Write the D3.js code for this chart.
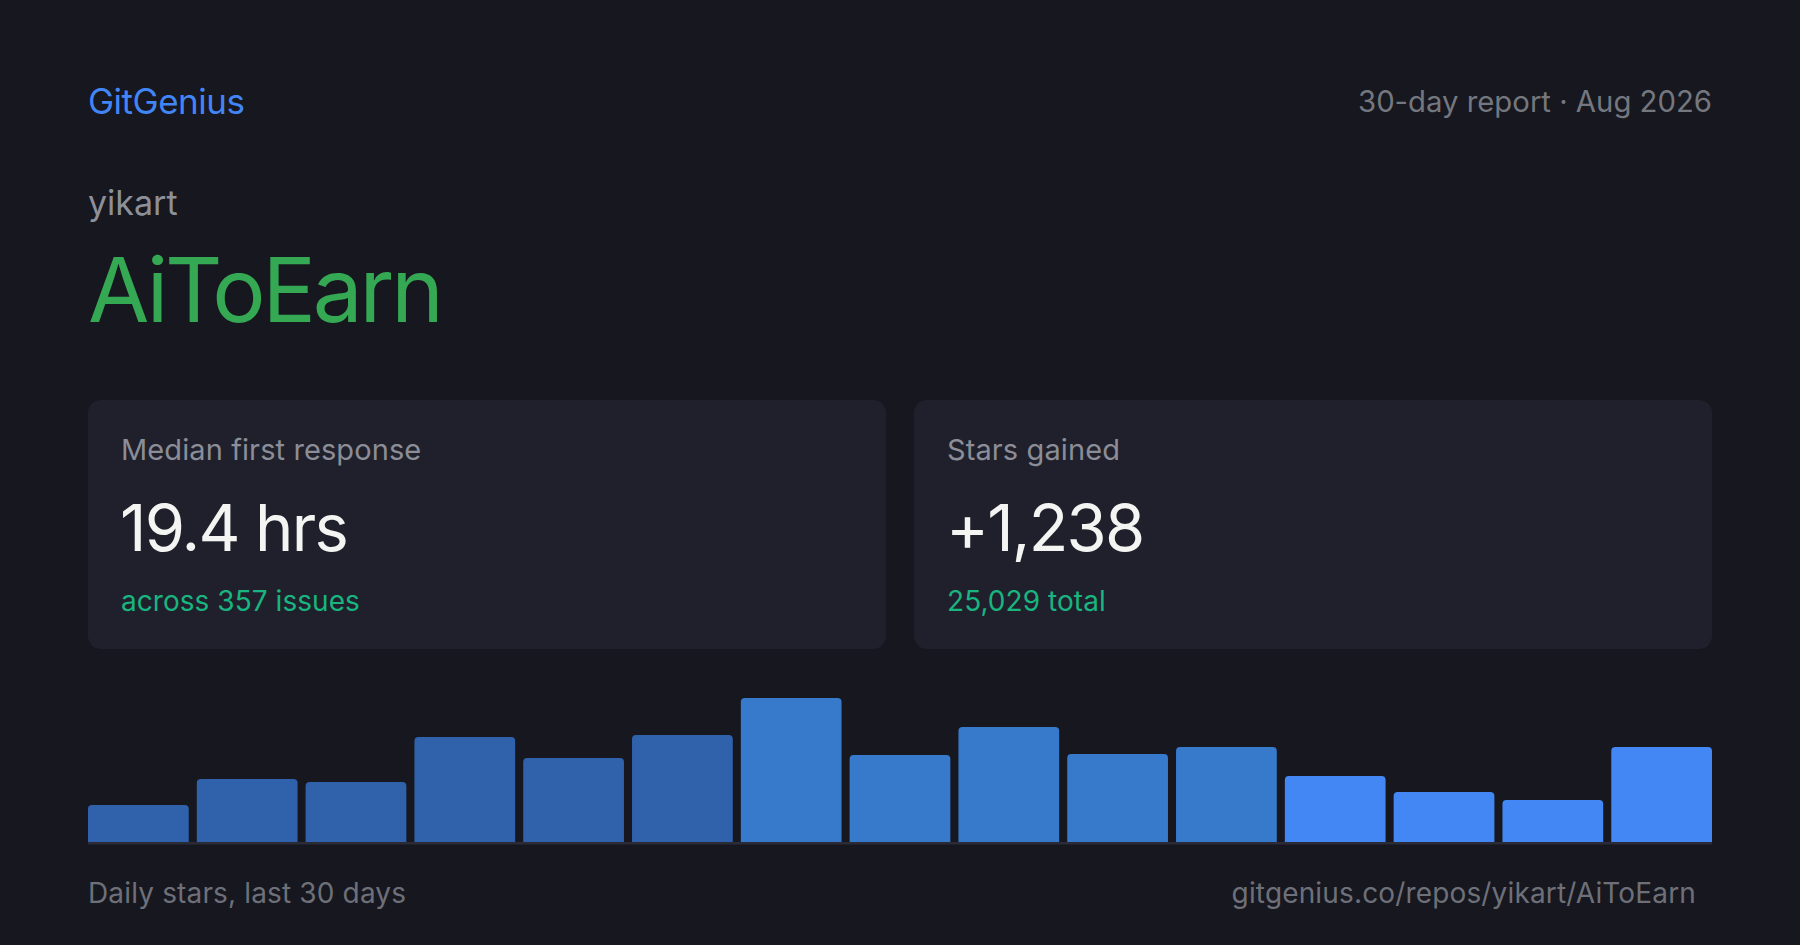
<!DOCTYPE html>
<html>
<head>
<meta charset="utf-8">
<script src="https://cdn.jsdelivr.net/npm/d3@7"></script>
<style>
  html, body { margin: 0; padding: 0; background: #16171f; }
  svg { display: block; font-family: Inter, "Noto Sans", sans-serif; }
</style>
</head>
<body>
<svg id="card" width="1800" height="945"></svg>
<script>
// Daily stars, grouped in 15 two-day buckets over the last 30 days
const buckets = d3.range(1, 16).map(i => `P${i}`);
const starsGained = [37, 63, 60, 105, 84, 107, 144, 87, 115, 88, 95, 66, 50, 42, 95];
const barTone = ['dim', 'dim', 'dim', 'dim', 'dim', 'dim', 'mid', 'mid', 'mid', 'mid', 'mid', 'hot', 'hot', 'hot', 'hot'];

const stats = [
    { label: 'Median first response', value: '19.4 hrs', note: 'across 357 issues' },
    { label: 'Stars gained', value: '+1,238', note: '25,029 total' }
];

const W = 1800, left = 88, right = 1712;
const toneColor = { dim: '#2f62ab', mid: '#3779cb', hot: '#4287f3' };

const svg = d3.select('#card');

svg.append('rect').attr('width', W).attr('height', 945).attr('fill', '#16171f');

// header
svg.append('text').attr('x', left).attr('y', 114)
    .attr('font-size', 35).attr('letter-spacing', -0.5).attr('fill', '#4285f4').text('GitGenius');
svg.append('text').attr('x', right).attr('y', 112).attr('text-anchor', 'end')
    .attr('font-size', 29.3).attr('fill', '#75777f').text('30-day report · Aug 2026');

svg.append('text').attr('x', left).attr('y', 215)
    .attr('font-size', 34).attr('fill', '#8e9099').text('yikart');
svg.append('text').attr('x', left).attr('y', 322)
    .attr('font-size', 89).attr('fill', '#34a853').attr('letter-spacing', -3.2).text('AiToEarn');

// stat cards
const gap = 28;
const cardW = (right - left - gap) / 2;
const cards = svg.selectAll('.stat')
    .data(stats)
    .enter().append('g')
    .attr('class', 'stat')
    .attr('transform', (d, i) => `translate(${left + i * (cardW + gap)},400)`);

cards.append('rect')
    .attr('width', cardW).attr('height', 249).attr('rx', 13)
    .attr('fill', '#1f202b');
cards.append('text').attr('x', 33).attr('y', 60)
    .attr('font-size', 29).attr('letter-spacing', 0.1).attr('fill', '#8b8d97').text(d => d.label);
cards.append('text').attr('x', 32).attr('y', 151)
    .attr('font-size', 65).attr('fill', '#f4f4f2').attr('letter-spacing', -1.8).text(d => d.value);
cards.append('text').attr('x', 33).attr('y', 211)
    .attr('font-size', 28).attr('letter-spacing', 0.05).attr('fill', '#19b47f').text(d => d.note);

// bar chart
const baseY = 842, topY = 698;
const x = d3.scaleBand().domain(buckets).range([left, right]).paddingInner(0.074).paddingOuter(0);
const y = d3.scaleLinear().domain([0, d3.max(starsGained)]).range([baseY, topY]);

const r = 4;
function topRounded(xp, yp, w, h) {
    return `M${xp},${yp + h}V${yp + r}Q${xp},${yp} ${xp + r},${yp}H${xp + w - r}Q${xp + w},${yp} ${xp + w},${yp + r}V${yp + h}Z`;
}

svg.append('g')
    .selectAll('path')
    .data(buckets)
    .enter().append('path')
    .attr('fill', (d, i) => toneColor[barTone[i]])
    .attr('d', (d, i) => topRounded(x(d), y(starsGained[i]), x.bandwidth(), baseY - y(starsGained[i])));

svg.append('rect')
    .attr('x', left).attr('y', baseY).attr('width', right - left).attr('height', 2.5)
    .attr('fill', '#2a2b36');

// footer
svg.append('text').attr('x', left).attr('y', 903)
    .attr('font-size', 28).attr('letter-spacing', 0.15).attr('fill', '#6e7079').text('Daily stars, last 30 days');
svg.append('text').attr('x', 1696).attr('y', 903).attr('text-anchor', 'end')
    .attr('font-size', 28).attr('letter-spacing', 0.15).attr('fill', '#6e7079').text('gitgenius.co/repos/yikart/AiToEarn');
</script>
</body>
</html>
